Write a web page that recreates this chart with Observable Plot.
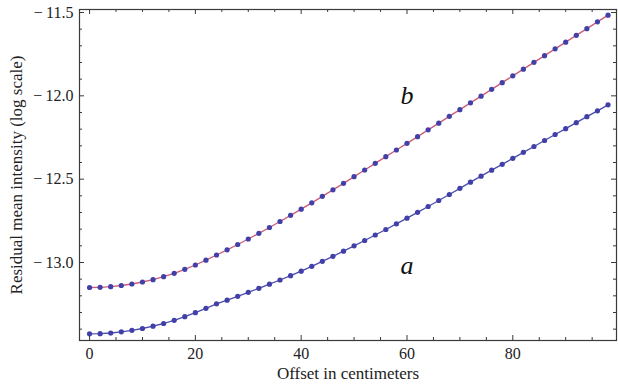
<!DOCTYPE html>
<html>
<head>
<meta charset="utf-8">
<script src="https://cdn.jsdelivr.net/npm/d3@7"></script>
<script src="https://cdn.jsdelivr.net/npm/@observablehq/plot@0.6"></script>
<style>
  html, body { margin: 0; padding: 0; background: #fff; }
  #chart svg { display: block; }
  #chart svg text { font-family: 'Liberation Serif', 'Times New Roman', serif; }
</style>
</head>
<body>
<div id="chart"></div>
<script>
// Offsets in centimeters (one point every 2 cm)
const offsets = [0,2,4,6,8,10,12,14,16,18,20,22,24,26,28,30,32,34,36,38,40,42,44,46,48,
                 50,52,54,56,58,60,62,64,66,68,70,72,74,76,78,80,82,84,86,88,90,92,94,96,98];

// Curve a (lower)
const seriesA = [-13.428,-13.427,-13.423,-13.416,-13.407,-13.396,-13.382,-13.366,-13.347,-13.325,
                 -13.301,-13.275,-13.248,-13.226,-13.203,-13.179,-13.155,-13.130,-13.105,-13.079,
                 -13.052,-13.023,-12.993,-12.963,-12.932,-12.900,-12.868,-12.835,-12.802,-12.768,
                 -12.734,-12.699,-12.664,-12.628,-12.592,-12.555,-12.518,-12.482,-12.446,-12.411,
                 -12.375,-12.339,-12.304,-12.268,-12.232,-12.197,-12.161,-12.125,-12.090,-12.054];

// Curve b (upper)
const seriesB = [-13.150,-13.149,-13.145,-13.138,-13.129,-13.117,-13.103,-13.085,-13.065,-13.041,
                 -13.015,-12.986,-12.955,-12.924,-12.892,-12.859,-12.825,-12.790,-12.754,-12.717,
                 -12.680,-12.642,-12.603,-12.564,-12.525,-12.485,-12.445,-12.405,-12.365,-12.325,
                 -12.285,-12.245,-12.204,-12.164,-12.123,-12.083,-12.042,-12.002,-11.961,-11.921,
                 -11.880,-11.840,-11.799,-11.759,-11.718,-11.678,-11.637,-11.597,-11.556,-11.516];

const xMajorTicks = [0, 20, 40, 60, 80];
const xMinorTicks = [5,10,15,25,30,35,45,50,55,65,70,75,85,90,95];
const yMajorTicks = [-13.0, -12.5, -12.0, -11.5];
const yMinorTicks = [-13.4,-13.3,-13.2,-13.1,-12.9,-12.8,-12.7,-12.6,-12.4,-12.3,-12.2,-12.1,-11.9,-11.8,-11.7,-11.6];

const curveLabels = [{name: "b", x: 60, y: -12.0}, {name: "a", x: 60, y: -13.02}];
const xTitle = "Offset in centimeters";
const yTitle = "Residual mean intensity (log scale)";

const dataA = offsets.map((x, i) => ({x, y: seriesA[i]}));
const dataB = offsets.map((x, i) => ({x, y: seriesB[i]}));

const font = "'Liberation Serif', 'Times New Roman', serif";
const frameColor = "#3a3a3a";
const dotColor = "#4040a8";

const W = 618, H = 388, mL = 79, mR = 2, mT = 9, mB = 48;
const xDom = [-1.9, 99.6];
const yDom = [-13.468, -11.482];
// pixel lengths of ticks converted to data units
const pxX = (xDom[1] - xDom[0]) / (W - mL - mR);
const pxY = (yDom[1] - yDom[0]) / (H - mT - mB);
const majLen = 5, minLen = 3;

const fmtY = d => "\u2212\u2009" + Math.abs(d).toFixed(1);

function xTicks(ticks, len) {
  return [
    Plot.ruleX(ticks, {x: d => d, y1: yDom[0], y2: yDom[0] + len * pxY, stroke: frameColor, strokeWidth: 1}),
    Plot.ruleX(ticks, {x: d => d, y1: yDom[1], y2: yDom[1] - len * pxY, stroke: frameColor, strokeWidth: 1})
  ];
}
function yTicks(ticks, len) {
  return [
    Plot.ruleY(ticks, {y: d => d, x1: xDom[0], x2: xDom[0] + len * pxX, stroke: frameColor, strokeWidth: 1}),
    Plot.ruleY(ticks, {y: d => d, x1: xDom[1], x2: xDom[1] - len * pxX, stroke: frameColor, strokeWidth: 1})
  ];
}

const chart = Plot.plot({
  width: W,
  height: H,
  marginLeft: mL,
  marginRight: mR,
  marginTop: mT,
  marginBottom: mB,
  style: {fontFamily: font, fontSize: "16px", color: "#222", background: "#fff"},
  x: {domain: xDom},
  y: {domain: yDom},
  marks: [
    // tick labels
    Plot.axisX(xMajorTicks, {anchor: "bottom", tickSize: 0, tickPadding: 7, label: null, fontSize: 16, fontFamily: font, fontVariant: "normal"}),
    Plot.axisY(yMajorTicks, {anchor: "left", tickSize: 0, tickPadding: 6, tickFormat: fmtY, label: null, fontSize: 16, fontFamily: font, fontVariant: "normal"}),
    // inward ticks, all four sides
    ...xTicks(xMajorTicks, majLen),
    ...xTicks(xMinorTicks, minLen),
    ...yTicks(yMajorTicks, majLen),
    ...yTicks(yMinorTicks, minLen),
    Plot.frame({stroke: frameColor, strokeWidth: 1.2}),
    // curves
    Plot.line(dataB, {x: "x", y: "y", stroke: "#cf5a78", strokeWidth: 1.3}),
    Plot.line(dataA, {x: "x", y: "y", stroke: "#4b4bb0", strokeWidth: 1.3}),
    Plot.dot(dataB, {x: "x", y: "y", r: 2.6, fill: dotColor, stroke: "none"}),
    Plot.dot(dataA, {x: "x", y: "y", r: 2.6, fill: dotColor, stroke: "none"}),
    // curve labels
    Plot.text(curveLabels, {x: "x", y: "y", text: "name", fontSize: 26, fontStyle: "italic", fontFamily: font, fill: "#111"}),
    // axis titles
    Plot.text([xTitle], {frameAnchor: "bottom", dy: 38, fontSize: 17, fontFamily: font, fill: "#222"}),
    Plot.text([yTitle], {frameAnchor: "left", textAnchor: "middle", dx: -63, rotate: -90, fontSize: 17, fontFamily: font, fill: "#222"})
  ]
});
document.getElementById("chart").appendChild(chart);
</script>
</body>
</html>
